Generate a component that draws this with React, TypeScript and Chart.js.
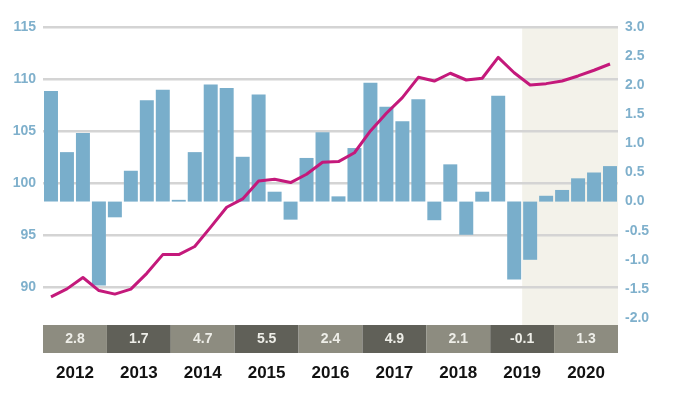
import React, { useEffect, useRef } from "react";
import { Chart, registerables } from "chart.js";

Chart.register(...registerables);

const years = ["2012", "2013", "2014", "2015", "2016", "2017", "2018", "2019", "2020"];
const annualGrowth = ["2.8", "1.7", "4.7", "5.5", "2.4", "4.9", "2.1", "-0.1", "1.3"];
const quarters = years.flatMap((y) => ["Q1", "Q2", "Q3", "Q4"].map((q) => `${y} ${q}`));
const quarterlyChange = [
  1.9, 0.85, 1.18, -1.44,
  -0.27, 0.53, 1.74, 1.92,
  0.03, 0.85, 2.01, 1.95,
  0.77, 1.84, 0.17, -0.31,
  0.75, 1.19, 0.09, 0.92,
  2.04, 1.63, 1.38, 1.76,
  -0.32, 0.64, -0.57, 0.17,
  1.82, -1.34, -1.0, 0.1,
  0.2, 0.4, 0.5, 0.61,
];
const indexLevel = [
  89.04, 89.8, 90.9, 89.64,
  89.3, 89.78, 91.3, 93.1,
  93.1, 93.88, 95.74, 97.66,
  98.46, 100.19, 100.35, 100.03,
  100.83, 101.99, 102.05, 102.9,
  105.0, 106.7, 108.2, 110.16,
  109.8, 110.55, 109.9, 110.07,
  112.08, 110.6, 109.42, 109.55,
  109.8, 110.29, 110.84, 111.44,
];
const leftTicks = [90, 95, 100, 105, 110, 115];
const forecastStartIndex = 30;

const FONT = '"Liberation Sans", Arial, Helvetica, sans-serif';

const decorPlugin = {
  id: "decor",
  beforeDraw(chart: any) {
    const { ctx, chartArea, scales } = chart;
    const x = scales.x;
    const x0 = x.getPixelForValue(forecastStartIndex - 0.5);
    const x1 = chartArea.right;
    ctx.save();
    ctx.fillStyle = "#f3f2ea";
    ctx.fillRect(x0, chartArea.top, x1 - x0, 325 - chartArea.top);
    ctx.restore();
  },
  afterDraw(chart: any) {
    const { ctx, scales } = chart;
    const x = scales.x;
    ctx.save();
    years.forEach((yr, i) => {
      const a = x.getPixelForValue(i * 4 - 0.5);
      const b = x.getPixelForValue(i * 4 + 3.5);
      ctx.fillStyle = i % 2 === 0 ? "#8d8c80" : "#606058";
      ctx.fillRect(a, 325, b - a, 28);
      ctx.fillStyle = "#eeeee8";
      ctx.font = `bold 14px ${FONT}`;
      ctx.textAlign = "center";
      ctx.textBaseline = "middle";
      ctx.fillText(annualGrowth[i], (a + b) / 2, 339.5);
      ctx.fillStyle = "#111111";
      ctx.font = `bold 17px ${FONT}`;
      ctx.fillText(yr, (a + b) / 2, 373);
    });
    ctx.restore();
  },
};

export default function App() {
  const ref = useRef<HTMLCanvasElement | null>(null);
  useEffect(() => {
    document.body.style.margin = "0";
    if (!ref.current) return;
    const chart = new Chart(ref.current, {
      type: "bar",
      data: {
        labels: quarters,
        datasets: [
          {
            type: "line",
            data: indexLevel,
            yAxisID: "y",
            borderColor: "#c4197b",
            borderWidth: 3,
            pointRadius: 0,
            tension: 0,
            borderJoinStyle: "round",
            order: 0,
          } as any,
          {
            type: "bar",
            data: quarterlyChange,
            yAxisID: "y1",
            backgroundColor: "#79aecb",
            barPercentage: 0.875,
            categoryPercentage: 1,
            order: 1,
          },
        ],
      },
      options: {
        animation: false,
        responsive: false,
        layout: { padding: { left: 0, right: 0, top: 27, bottom: 78 } },
        plugins: { legend: { display: false }, tooltip: { enabled: false } },
        scales: {
          x: { display: false, offset: true },
          y: {
            position: "left",
            min: 87,
            max: 115,
            afterBuildTicks: (s: any) => {
              s.ticks = leftTicks.map((v) => ({ value: v }));
            },
            afterFit: (s: any) => {
              s.width = 43;
            },
            border: { display: false },
            grid: { color: "#d4d4d4", lineWidth: 2.5, drawTicks: false },
            ticks: {
              padding: 7,
              color: "#7fb0cc",
              font: { family: FONT, size: 14, weight: "bold" },
            },
          },
          y1: {
            position: "right",
            min: -2,
            max: 3,
            afterFit: (s: any) => {
              s.width = 57;
            },
            border: { display: false },
            grid: { display: false, drawTicks: false },
            ticks: {
              stepSize: 0.5,
              padding: 7,
              color: "#7fb0cc",
              font: { family: FONT, size: 14, weight: "bold" },
              callback: (v: any) => Number(v).toFixed(1),
            },
          },
        },
      },
      plugins: [decorPlugin],
    });
    return () => chart.destroy();
  }, []);
  return (
    <div style={{ width: 675, height: 396 }}>
      <canvas ref={ref} width={675} height={396} />
    </div>
  );
}
